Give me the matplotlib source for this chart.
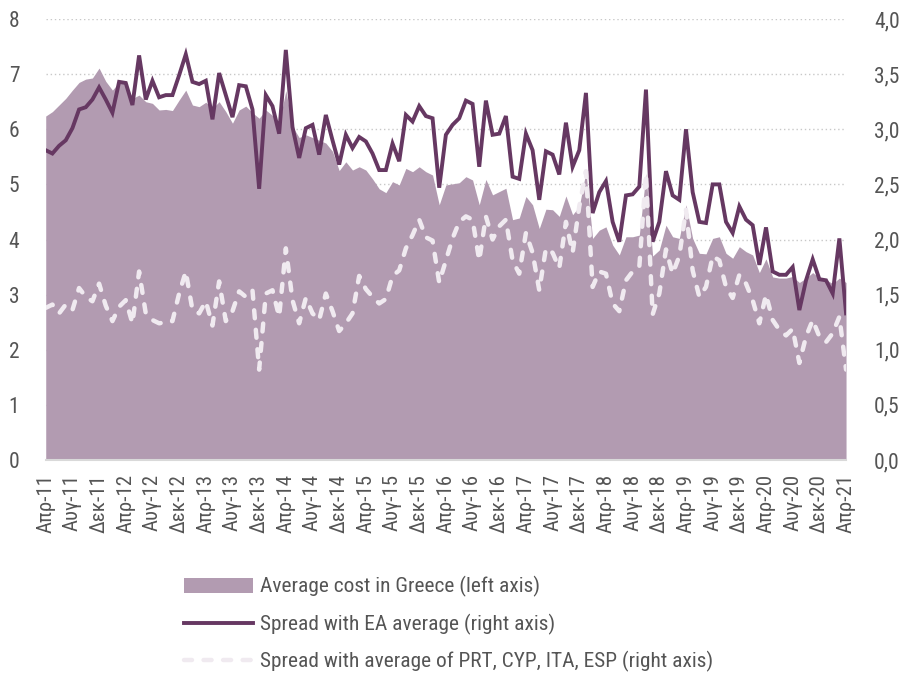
import numpy as np
import matplotlib
matplotlib.use("Agg")
import matplotlib.pyplot as plt
from matplotlib.ticker import FuncFormatter
from matplotlib.patches import Patch
from matplotlib.lines import Line2D

plt.rcParams['font.family'] = ['Roboto Condensed', 'DejaVu Sans']

# monthly data, Apr-11 .. Apr-21
avg_cost = [6.24, 6.32, 6.44, 6.56, 6.71, 6.85, 6.91, 6.93, 7.11, 6.87,
            6.71, 6.85, 6.84, 6.56, 6.62, 6.50, 6.47, 6.35, 6.36, 6.34,
            6.53, 6.71, 6.44, 6.41, 6.49, 6.38, 6.50, 6.32, 6.11, 6.35,
            6.42, 6.30, 6.20, 6.35, 6.25, 6.10, 6.70, 6.05, 5.85, 5.90,
            5.85, 5.80, 5.75, 5.60, 5.25, 5.41, 5.26, 5.32, 5.26, 5.10,
            4.92, 4.85, 5.05, 4.99, 5.29, 5.23, 5.32, 5.23, 5.17, 4.63,
            4.99, 5.01, 5.03, 5.14, 5.08, 4.63, 5.09, 4.81, 4.87, 4.93,
            4.36, 4.39, 4.78, 4.63, 4.20, 4.55, 4.54, 4.42, 4.79, 4.45,
            4.60, 5.23, 4.02, 4.17, 4.23, 3.90, 3.72, 4.05, 4.05, 4.08,
            5.20, 3.70, 3.81, 4.26, 4.05, 4.02, 4.63, 4.02, 3.75, 3.74,
            4.02, 4.05, 3.75, 3.66, 3.87, 3.78, 3.72, 3.40, 3.65, 3.32,
            3.30, 3.30, 3.33, 3.22, 3.30, 3.40, 3.30, 3.27, 3.20, 3.30,
            3.22]

spread_ea = [2.81, 2.78, 2.85, 2.90, 3.01, 3.18, 3.20, 3.27, 3.38, 3.27,
             3.15, 3.43, 3.42, 3.22, 3.67, 3.27, 3.44, 3.29, 3.31, 3.31,
             3.49, 3.68, 3.43, 3.41, 3.44, 3.09, 3.51, 3.31, 3.11, 3.40,
             3.39, 3.18, 2.46, 3.31, 3.21, 2.96, 3.72, 3.02, 2.74, 3.01,
             3.04, 2.77, 3.13, 2.90, 2.68, 2.95, 2.83, 2.93, 2.89, 2.78,
             2.63, 2.63, 2.87, 2.71, 3.13, 3.07, 3.21, 3.12, 3.10, 2.47,
             2.95, 3.04, 3.10, 3.26, 3.23, 2.66, 3.26, 2.95, 2.96, 3.12,
             2.57, 2.55, 2.96, 2.81, 2.36, 2.80, 2.77, 2.59, 3.06, 2.66,
             2.81, 3.33, 2.24, 2.43, 2.53, 2.16, 1.98, 2.40, 2.41, 2.48,
             3.36, 1.98, 2.16, 2.62, 2.40, 2.36, 3.00, 2.43, 2.16, 2.15,
             2.50, 2.50, 2.16, 2.06, 2.30, 2.18, 2.13, 1.77, 2.11, 1.71,
             1.68, 1.68, 1.75, 1.36, 1.63, 1.82, 1.64, 1.63, 1.51, 2.01,
             1.33]

spread_periph = [1.38, 1.41, 1.33, 1.41, 1.36, 1.56, 1.48, 1.44, 1.60, 1.40,
                 1.26, 1.39, 1.45, 1.24, 1.71, 1.33, 1.27, 1.24, 1.25, 1.26,
                 1.51, 1.71, 1.36, 1.33, 1.44, 1.22, 1.62, 1.26, 1.35, 1.53,
                 1.48, 1.54, 0.82, 1.51, 1.54, 1.30, 1.92, 1.45, 1.24, 1.47,
                 1.33, 1.27, 1.51, 1.35, 1.17, 1.24, 1.33, 1.67, 1.55, 1.48,
                 1.42, 1.46, 1.67, 1.72, 1.92, 2.04, 2.18, 2.02, 1.99, 1.61,
                 1.81, 2.01, 2.16, 2.21, 2.18, 1.81, 2.21, 2.00, 2.12, 2.18,
                 1.81, 1.69, 2.06, 1.88, 1.54, 1.92, 1.88, 1.74, 2.16, 1.88,
                 2.30, 2.62, 1.57, 1.71, 1.69, 1.42, 1.35, 1.63, 1.71, 1.75,
                 2.60, 1.32, 1.51, 1.91, 1.69, 1.85, 2.27, 1.72, 1.48, 1.57,
                 1.85, 1.81, 1.57, 1.47, 1.68, 1.60, 1.45, 1.24, 1.50, 1.27,
                 1.18, 1.13, 1.19, 0.88, 1.12, 1.27, 1.12, 1.07, 1.15, 1.30,
                 0.82]

tick_labels = ['Απρ-11', 'Αυγ-11', 'Δεκ-11', 'Απρ-12', 'Αυγ-12', 'Δεκ-12',
               'Απρ-13', 'Αυγ-13', 'Δεκ-13', 'Απρ-14', 'Αυγ-14', 'Δεκ-14',
               'Απρ-15', 'Αυγ-15', 'Δεκ-15', 'Απρ-16', 'Αυγ-16', 'Δεκ-16',
               'Απρ-17', 'Αυγ-17', 'Δεκ-17', 'Απρ-18', 'Αυγ-18', 'Δεκ-18',
               'Απρ-19', 'Αυγ-19', 'Δεκ-19', 'Απρ-20', 'Αυγ-20', 'Δεκ-20',
               'Απρ-21']

legend_labels = ['Average cost in Greece (left axis)',
                 'Spread with EA average (right axis)',
                 'Spread with average of PRT, CYP, ITA, ESP (right axis)']

AREA = '#b29bb1'
DARK = '#663862'
LIGHT = '#f0eaf0'
TXT = '#555555'

x = np.arange(len(avg_cost))

fig = plt.figure(figsize=(9.11, 6.82), dpi=100)
ax = fig.add_axes([0.0502, 0.3255, 0.8785, 0.6466])
ax2 = ax.twinx()

ax.fill_between(x, avg_cost, 0, color=AREA, lw=0, zorder=2)
ax2.plot(x, spread_ea, color=DARK, lw=2.8, solid_joinstyle='miter', zorder=3)
ax2.plot(x, spread_periph, color=LIGHT, lw=3.2, dashes=(1.8, 2.6),
         dash_capstyle='round', zorder=3)

ax.set_xlim(0, len(avg_cost) - 1)
ax.set_ylim(0, 8)
ax2.set_ylim(0, 4)
ax.set_yticks(range(0, 9))
ax2.set_yticks(np.arange(0, 4.01, 0.5))
ax2.yaxis.set_major_formatter(FuncFormatter(lambda v, p: f"{v:.1f}".replace('.', ',')))

ax.set_axisbelow(True)
ax.yaxis.grid(True, color='#c8c8c8', linestyle=(0, (1, 2)), lw=1)

ax.set_xticks(x[::4])
ax.set_xticklabels(tick_labels, rotation=90)

for a in (ax, ax2):
    for s in a.spines.values():
        s.set_visible(False)
    a.tick_params(length=0, labelsize=15.5, labelcolor=TXT)
ax.spines['bottom'].set_visible(True)
ax.spines['bottom'].set_color('#d9d9d9')
ax.spines['bottom'].set_linewidth(1.5)
ax.tick_params(axis='y', pad=19)
ax.tick_params(axis='x', pad=10, labelsize=15)
ax2.tick_params(axis='y', pad=20)

handles = [Patch(facecolor=AREA, edgecolor='none'),
           Line2D([], [], color=DARK, lw=2.8),
           Line2D([], [], color=LIGHT, lw=3.2, dashes=(1.8, 2.6), dash_capstyle='round')]
fig.legend(handles, legend_labels, loc='upper left', bbox_to_anchor=(0.202, 0.155),
           frameon=False, fontsize=15.4, labelcolor=TXT, handlelength=3.22,
           handletextpad=0.33, labelspacing=0.76, borderpad=0, borderaxespad=0)

fig.savefig('out.png', dpi=100)
